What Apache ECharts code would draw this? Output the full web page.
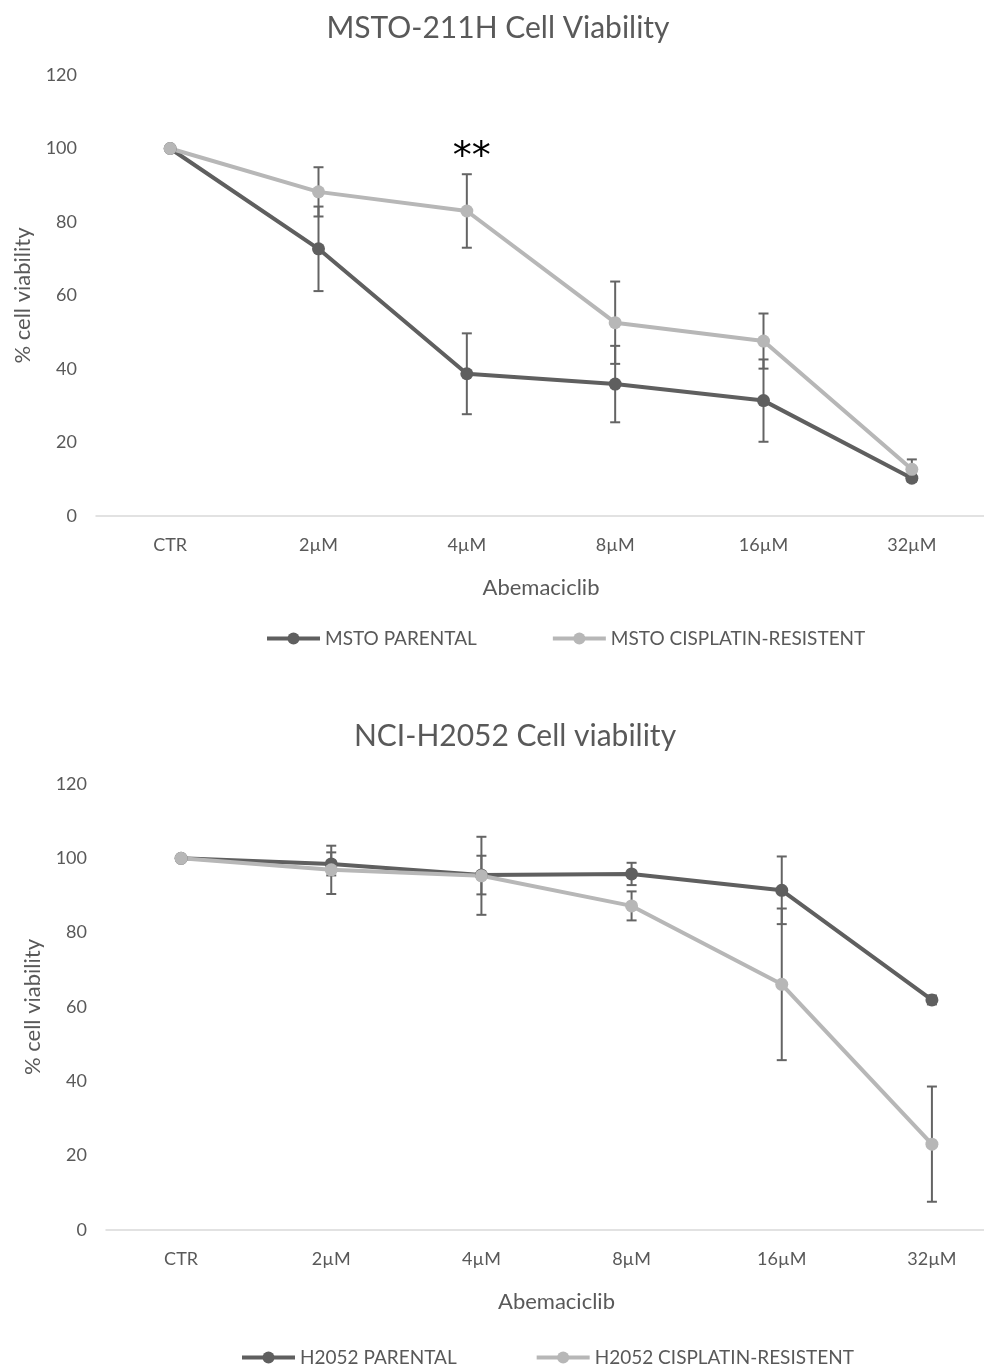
<!DOCTYPE html>
<html>
<head>
<meta charset="utf-8">
<script src="https://cdn.jsdelivr.net/npm/echarts@6/dist/echarts.min.js"></script>
<style>
  html, body { margin: 0; padding: 0; background: #fff; }
  #main { width: 984px; height: 1368px; }
</style>
</head>
<body>
<div id="main"></div>
<script>
// categories (Abemaciclib dose)
var categories = ['CTR', '2µM', '4µM', '8µM', '16µM', '32µM'];

// MSTO-211H
var mstoParental = [100, 72.7, 38.7, 35.9, 31.4, 10.3];
var mstoParentalErr = [0, 11.5, 11.0, 10.4, 11.2, 1.0];
var mstoResistent = [100, 88.2, 83.0, 52.6, 47.6, 12.7];
var mstoResistentErr = [0, 6.7, 10.0, 11.2, 7.5, 2.7];

// NCI-H2052
var h2052Parental = [100, 98.5, 95.5, 95.8, 91.4, 61.9];
var h2052ParentalErr = [0, 3.1, 5.2, 3.0, 9.1, 1.2];
var h2052Resistent = [100, 96.9, 95.3, 87.2, 66.1, 23.1];
var h2052ResistentErr = [0, 6.5, 10.5, 3.9, 20.4, 15.5];

var darkGray = '#5f5f5f';
var lightGray = '#b7b7b7';
var errColor = '#646464';
var textColor = '#595959';
var fontName = 'Lato';

// 误差线数据 [index, low, high]
function errData(vals, errs) {
  return vals.map(function (v, i) {
    return [i, v - errs[i], v + errs[i]];
  });
}

function renderError(params, api) {
  var x = api.value(0);
  if (api.value(2) - api.value(1) <= 0) return;
  var lo = api.coord([x, api.value(1)]);
  var hi = api.coord([x, api.value(2)]);
  var cap = 5;
  var style = { stroke: errColor, lineWidth: 2 };
  return {
    type: 'group',
    children: [
      { type: 'line', shape: { x1: lo[0], y1: lo[1], x2: hi[0], y2: hi[1] }, style: style },
      { type: 'line', shape: { x1: lo[0] - cap, y1: lo[1], x2: lo[0] + cap, y2: lo[1] }, style: style },
      { type: 'line', shape: { x1: hi[0] - cap, y1: hi[1], x2: hi[0] + cap, y2: hi[1] }, style: style }
    ]
  };
}

function lineSeries(name, data, color, idx) {
  return {
    name: name,
    type: 'line',
    xAxisIndex: idx,
    yAxisIndex: idx,
    data: data,
    symbol: 'circle',
    symbolSize: 13,
    lineStyle: { color: color, width: 4 },
    itemStyle: { color: color },
    z: 3
  };
}

function errSeries(vals, errs, idx) {
  return {
    type: 'custom',
    xAxisIndex: idx,
    yAxisIndex: idx,
    renderItem: renderError,
    data: errData(vals, errs),
    z: 2,
    silent: true
  };
}

function xAxis(idx) {
  return {
    type: 'category',
    gridIndex: idx,
    data: categories,
    boundaryGap: true,
    axisLine: { lineStyle: { color: '#d9d9d9', width: 1.5 } },
    axisTick: { show: false },
    axisLabel: { color: textColor, fontSize: 18, fontFamily: fontName, margin: 20 },
    name: 'Abemaciclib',
    nameLocation: 'middle',
    nameGap: 61,
    nameTextStyle: { color: textColor, fontSize: 22, fontFamily: fontName }
  };
}

function yAxis(idx) {
  return {
    type: 'value',
    gridIndex: idx,
    min: 0,
    max: 120,
    interval: 20,
    splitLine: { show: false },
    axisLine: { show: false },
    axisTick: { show: false },
    axisLabel: { color: textColor, fontSize: 18, fontFamily: fontName, margin: 19 },
    name: '% cell viability',
    nameLocation: 'middle',
    nameRotate: 90,
    nameGap: 62,
    nameTextStyle: { color: textColor, fontSize: 22, fontFamily: fontName }
  };
}

var chart = echarts.init(document.getElementById('main'));

var legendText = { color: textColor, fontSize: 19, fontFamily: fontName };

var option = {
  animation: false,
  backgroundColor: '#fff',
  title: [
    {
      text: 'MSTO-211H Cell Viability',
      left: 493, top: 8, textAlign: 'center',
      textStyle: { color: textColor, fontSize: 30, fontWeight: 'normal', fontFamily: fontName }
    },
    {
      text: 'NCI-H2052 Cell viability',
      left: 510, top: 716, textAlign: 'center',
      textStyle: { color: textColor, fontSize: 30, fontWeight: 'normal', fontFamily: fontName }
    }
  ],
  legend: [
    {
      data: ['MSTO PARENTAL', 'MSTO CISPLATIN-RESISTENT'],
      left: 265, top: 629, padding: 0,
      itemWidth: 53, itemHeight: 15, itemGap: 74,
      lineStyle: { width: 4 },
      textStyle: legendText
    },
    {
      data: ['H2052 PARENTAL', 'H2052 CISPLATIN-RESISTENT'],
      left: 240, top: 1348, padding: 0,
      itemWidth: 53, itemHeight: 15, itemGap: 78,
      lineStyle: { width: 4 },
      textStyle: legendText
    }
  ],
  grid: [
    { left: 96, width: 890, top: 75, height: 441, outerBoundsMode: 'none' },
    { left: 106, width: 901, top: 784, height: 446, outerBoundsMode: 'none' }
  ],
  xAxis: [xAxis(0), xAxis(1)],
  yAxis: [yAxis(0), yAxis(1)],
  series: [
    errSeries(mstoParental, mstoParentalErr, 0),
    errSeries(mstoResistent, mstoResistentErr, 0),
    lineSeries('MSTO PARENTAL', mstoParental, darkGray, 0),
    Object.assign(lineSeries('MSTO CISPLATIN-RESISTENT', mstoResistent, lightGray, 0), {
      markPoint: {
        symbol: 'circle',
        symbolSize: 0,
        data: [{ coord: ['4µM', 100] }],
        label: {
          show: true,
          formatter: '**',
          color: '#000',
          fontSize: 38,
          fontFamily: 'DejaVu Sans',
          offset: [5, 10]
        }
      }
    }),
    errSeries(h2052Parental, h2052ParentalErr, 1),
    errSeries(h2052Resistent, h2052ResistentErr, 1),
    lineSeries('H2052 PARENTAL', h2052Parental, darkGray, 1),
    lineSeries('H2052 CISPLATIN-RESISTENT', h2052Resistent, lightGray, 1)
  ]
};

chart.setOption(option);
</script>
</body>
</html>
